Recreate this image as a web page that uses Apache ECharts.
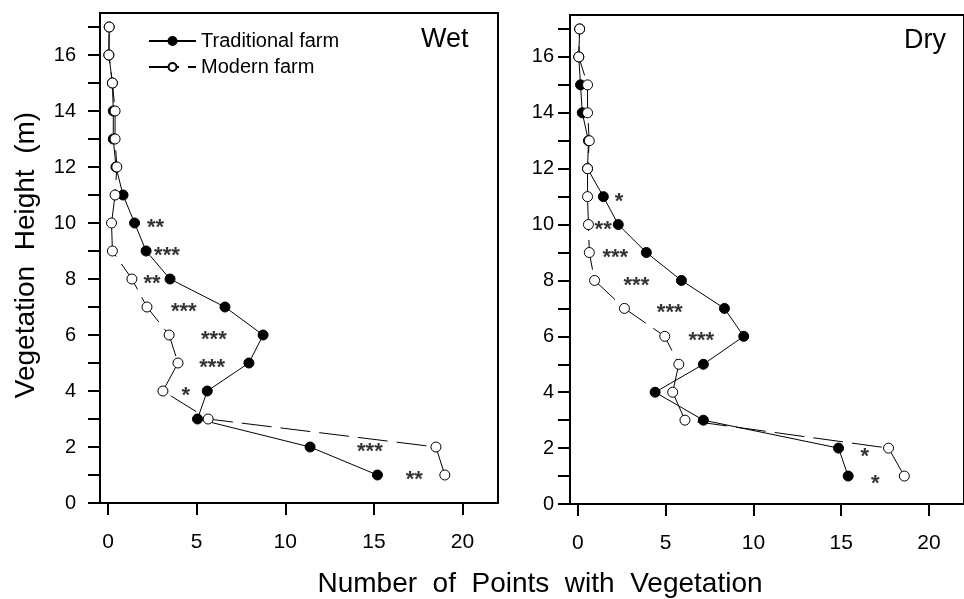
<!DOCTYPE html>
<html>
<head>
<meta charset="utf-8">
<script src="https://cdn.jsdelivr.net/npm/echarts@6/dist/echarts.min.js"></script>
<style>
  html, body { margin: 0; padding: 0; background: #fff; }
  #chart { width: 964px; height: 599px; }
</style>
</head>
<body>
<div id="chart"></div>
<script>
// heights (m) 1..17
const heights = [1, 2, 3, 4, 5, 6, 7, 8, 9, 10, 11, 12, 13, 14, 15, 16, 17];

// Wet season
const wetTraditional = [15.2, 11.4, 5.05, 5.6, 7.95, 8.75, 6.6, 3.5, 2.15, 1.5, 0.85, 0.45, 0.3, 0.3, 0.25, 0.05, 0.07];
const wetModern      = [19.0, 18.5, 5.65, 3.1, 3.95, 3.45, 2.2, 1.35, 0.25, 0.2, 0.4, 0.5, 0.4, 0.4, 0.25, 0.05, 0.07];
// Dry season
const dryTraditional = [15.4, 14.85, 7.15, 4.4, 7.15, 9.45, 8.35, 5.9, 3.9, 2.3, 1.45, 0.55, 0.6, 0.25, 0.15, 0.05, 0.1];
const dryModern      = [18.6, 17.7, 6.1, 5.4, 5.75, 4.95, 2.65, 0.95, 0.65, 0.6, 0.55, 0.55, 0.65, 0.55, 0.55, 0.05, 0.1];

// significance marks: [x, height, stars]
const wetStars = [[16.8, 1, '**'], [14.05, 2, '***'], [4.15, 4, '*'], [5.15, 5, '***'], [5.25, 6, '***'],
                  [3.55, 7, '***'], [2.0, 8, '**'], [2.6, 9, '***'], [2.2, 10, '**']];
const dryStars = [[16.7, 0.9, '*'], [16.1, 1.85, '*'], [6.3, 6, '***'], [4.5, 7, '***'], [2.6, 8, '***'],
                  [1.4, 9, '***'], [0.95, 10, '**'], [2.1, 11, '*']];

const xTicks = [0, 5, 10, 15, 20];
const yTicks = [0, 1, 2, 3, 4, 5, 6, 7, 8, 9, 10, 11, 12, 13, 14, 15, 16, 17];
const yLabels = [0, 2, 4, 6, 8, 10, 12, 14, 16];

const font = 'Liberation Sans, Arial, sans-serif';

function pairs(vals) {
  return vals.map((v, i) => [v, heights[i]]);
}

function xAxisOf(idx, margin) {
  return {
    gridIndex: idx, type: 'value', min: -0.45, max: 22,
    splitLine: { show: false },
    axisLine: { show: true, onZero: false, lineStyle: { color: '#000', width: 2 } },
    axisTick: { show: true, length: 12, customValues: xTicks, lineStyle: { color: '#000', width: 2 } },
    axisLabel: { customValues: xTicks, margin: margin, color: '#000', fontSize: 21, fontFamily: font }
  };
}
function yAxisOf(idx, margin) {
  return {
    gridIndex: idx, type: 'value', min: 0, max: 17.5,
    splitLine: { show: false },
    axisLine: { show: true, onZero: false, lineStyle: { color: '#000', width: 2 } },
    axisTick: { show: true, length: 12, customValues: yTicks, lineStyle: { color: '#000', width: 2 } },
    axisLabel: { customValues: yLabels, margin: margin, color: '#000', fontSize: 20, fontFamily: font }
  };
}

function traditional(idx, vals) {
  return {
    name: 'Traditional farm', type: 'line', xAxisIndex: idx, yAxisIndex: idx,
    data: pairs(vals), symbol: 'circle', symbolSize: 10, z: 3,
    lineStyle: { color: '#000', width: 1 },
    itemStyle: { color: '#000', borderColor: '#000', borderWidth: 1 },
    animation: false
  };
}
function modern(idx, vals) {
  return {
    name: 'Modern farm', type: 'line', xAxisIndex: idx, yAxisIndex: idx,
    data: pairs(vals), symbol: 'circle', symbolSize: 10, z: 4,
    lineStyle: { color: '#000', width: 1, type: [30, 9] },
    itemStyle: { color: '#fff', borderColor: '#000', borderWidth: 1 },
    animation: false
  };
}
function stars(idx, marks) {
  return {
    type: 'scatter', xAxisIndex: idx, yAxisIndex: idx, symbolSize: 0, z: 5,
    data: marks, silent: true,
    label: {
      show: true, position: [0, 0], align: 'left', verticalAlign: 'middle', offset: [0, 5],
      formatter: p => p.data[2], color: '#000', fontSize: 22, fontWeight: 'bold', fontFamily: font
    },
    animation: false
  };
}

const chart = echarts.init(document.getElementById('chart'), null, { renderer: 'canvas' });
chart.setOption({
  backgroundColor: '#fff',
  animation: false,
  grid: [
    { left: 100, top: 13, width: 398, height: 490, show: true, borderColor: '#000', borderWidth: 2 },
    { left: 570, top: 15, width: 400, height: 489, show: true, borderColor: '#000', borderWidth: 2 }
  ],
  xAxis: [xAxisOf(0, 29), xAxisOf(1, 29)],
  yAxis: [yAxisOf(0, 24), yAxisOf(1, 16)],
  legend: {
    data: ['Traditional farm', 'Modern farm'],
    orient: 'vertical', left: 143, top: 26,
    itemWidth: 47, itemHeight: 10, itemGap: 6,
    textStyle: { color: '#000', fontSize: 20, fontFamily: font, lineHeight: 20 }
  },
  graphic: [
    { type: 'text', left: 421, top: 26, style: { text: 'Wet', font: '27px ' + font, fill: '#000' } },
    { type: 'text', left: 904, top: 27, style: { text: 'Dry', font: '27px ' + font, fill: '#000' } },
    { type: 'text', x: 26, y: 255, rotation: Math.PI / 2,
      style: { text: 'Vegetation  Height  (m)', font: '28px ' + font, fill: '#000', align: 'center', verticalAlign: 'middle' } },
    { type: 'text', x: 540, y: 584,
      style: { text: 'Number  of  Points  with  Vegetation', font: '28px ' + font, fill: '#000', align: 'center', verticalAlign: 'middle' } }
  ],
  series: [
    traditional(0, wetTraditional), modern(0, wetModern), stars(0, wetStars),
    traditional(1, dryTraditional), modern(1, dryModern), stars(1, dryStars)
  ]
});
</script>
</body>
</html>
